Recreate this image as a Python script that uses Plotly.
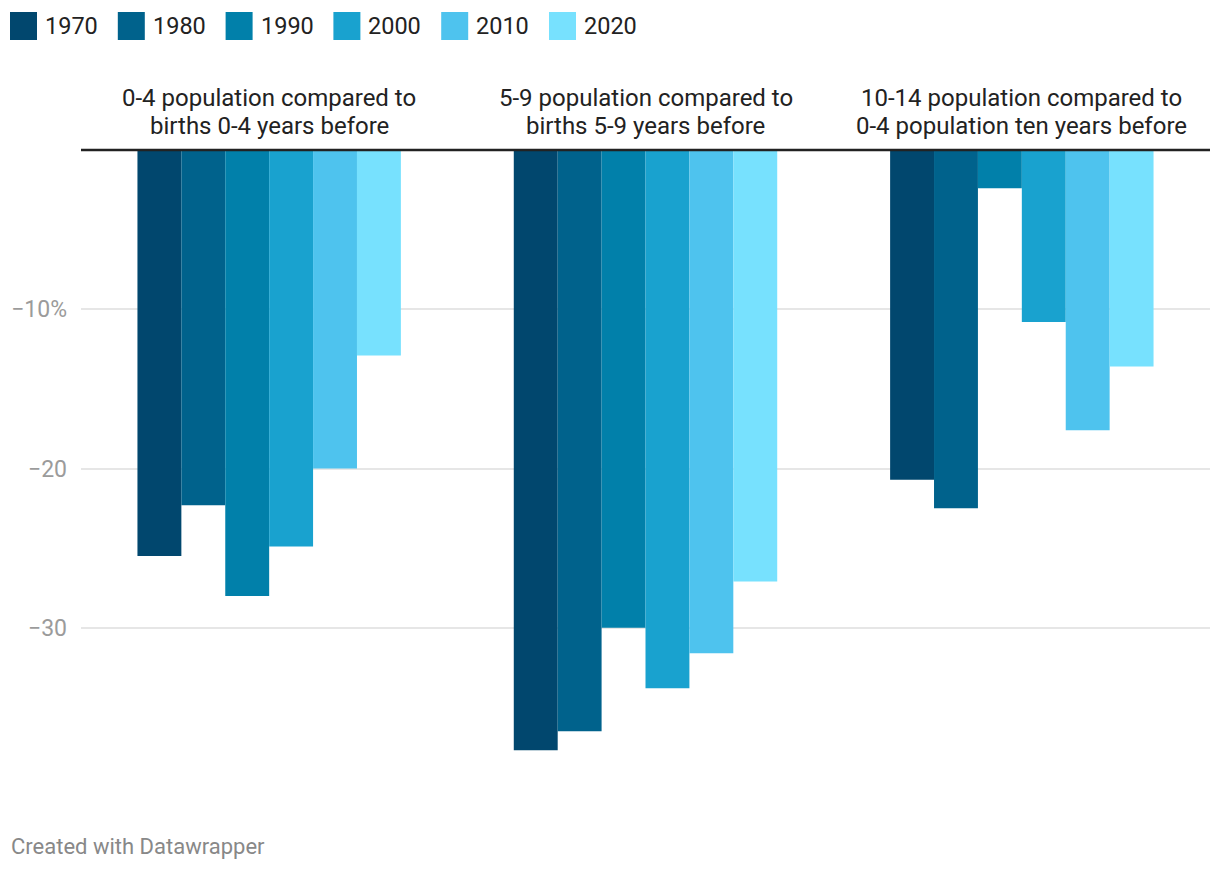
import plotly.graph_objects as go

W, H = 1220, 872

categories = [
    "0-4 population compared to<br>births 0-4 years before",
    "5-9 population compared to<br>births 5-9 years before",
    "10-14 population compared to<br>0-4 population ten years before",
]
years = ["1970", "1980", "1990", "2000", "2010", "2020"]

v1970 = [-25.5, -37.7, -20.7]
v1980 = [-22.3, -36.5, -22.5]
v1990 = [-28.0, -30.0, -2.4]
v2000 = [-24.9, -33.8, -10.8]
v2010 = [-20.0, -31.6, -17.6]
v2020 = [-12.9, -27.1, -13.6]
series = [v1970, v1980, v1990, v2000, v2010, v2020]

colors = ["#01476e", "#00628c", "#0180aa", "#19a2cf", "#4ec3ee", "#77e1fe"]

tick_vals = [-10, -20, -30]
tick_text = ["\u221210%", "\u221220", "\u221230"]

cat_ids = [0, 1, 2]

FONT = "Roboto, 'Noto Sans', sans-serif"


def px(x):
    return x / W


def py(y):
    return 1 - y / H


fig = go.Figure()
for name, vals, col in zip(years, series, colors):
    fig.add_trace(go.Bar(
        x=cat_ids, y=vals, name=name, marker=dict(color=col, line=dict(width=0)),
        showlegend=False,
    ))

# plot area geometry
x_left, x_right = 81, 1210
y_zero, y_bottom = 150, 787
y_min = -40
unit = (y_bottom - y_zero) / (-y_min)
y_top_val = 0.15
y_top_px = y_zero - y_top_val * unit

fig.update_layout(
    width=W, height=H,
    margin=dict(l=0, r=0, t=0, b=0),
    paper_bgcolor="white", plot_bgcolor="white",
    barmode="group", bargap=0.3, bargroupgap=0,
    font=dict(family=FONT),
    xaxis=dict(
        domain=[px(x_left), px(x_right)],
        range=[-0.5, 2.5], showticklabels=False, showgrid=False,
        zeroline=False, showline=False, ticks="", fixedrange=True,
    ),
    yaxis=dict(
        domain=[py(y_bottom), py(y_top_px)],
        range=[y_min, y_top_val],
        tickvals=tick_vals, ticktext=tick_text,
        tickfont=dict(family=FONT, size=23, color="#9b9b9b"),
        ticklabelstandoff=13,
        showgrid=True, gridcolor="#e6e6e6", gridwidth=2,
        zeroline=False, showline=False, ticks="",
    ),
)

# zero baseline above bars
fig.add_shape(type="line", xref="paper", yref="y",
              x0=px(x_left), x1=px(x_right), y0=0, y1=0,
              line=dict(color="#222222", width=2.5), layer="above")

# group headers (two lines each)
for i, cat in enumerate(categories):
    lines = cat.split("<br>")
    for j, line in enumerate(lines):
        fig.add_annotation(
            x=cat_ids[i], xref="x", y=py(98 + 28 * j), yref="paper",
            text=line, showarrow=False, xanchor="center", yanchor="middle",
            font=dict(family=FONT, size=24, color="#222222"),
        )

# legend
for i, (name, col) in enumerate(zip(years, colors)):
    x0 = 10 + i * 107.8
    fig.add_shape(type="rect", xref="paper", yref="paper",
                  x0=px(x0), x1=px(x0 + 27), y0=py(12), y1=py(40),
                  fillcolor=col, line=dict(width=0))
    fig.add_annotation(x=px(x0 + 33), xref="paper", y=py(26), yref="paper",
                       text=name, showarrow=False, xanchor="left", yanchor="middle",
                       font=dict(family=FONT, size=23.5, color="#222222"))

# footer
fig.add_annotation(x=px(9), xref="paper", y=py(846), yref="paper",
                   text="Created with Datawrapper", showarrow=False,
                   xanchor="left", yanchor="middle",
                   font=dict(family=FONT, size=22, color="#888888"))

fig.write_html("out.html", config=dict(displayModeBar=False))
